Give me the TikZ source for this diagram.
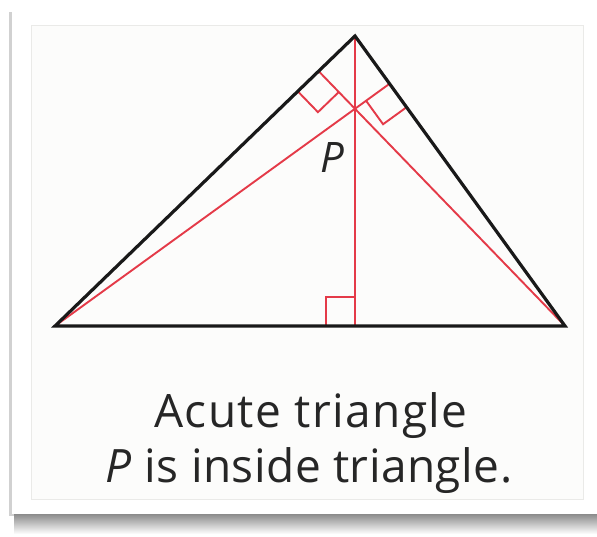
\documentclass[tikz,border=0pt]{standalone}
\usepackage{fontspec}
\setmainfont{Open Sans}
\usetikzlibrary{calc}
\definecolor{redA}{RGB}{228,58,72}
\definecolor{cardG}{RGB}{252,252,251}
\definecolor{edgeG}{RGB}{234,234,232}

\begin{document}
\begin{tikzpicture}[x=1pt, y=-1pt,
  side/.style={draw=black!90, line width=3.2pt, line join=miter},
  alt/.style={draw=redA, line width=1.9pt},
  rmark/.style={draw=redA, line width=1.9pt},
  caption/.style={font=\fontsize{46}{53}\selectfont\addfontfeatures{LetterSpace=#1}, anchor=base, text=black!85},
]
\useasboundingbox (0,0) rectangle (597,536);

%% ═══ CARD ═══
\shade[top color=black!50, bottom color=white] (14,512) rectangle (597,534);
\fill[black!18] (9,12) rectangle (14,516);
\fill[white] (12,8) rectangle (597,514);
\draw[edgeG, fill=cardG] (31,25) rectangle (583,499);

%% ═══ TRIANGLE ═══
\coordinate (A) at (55,326);
\coordinate (B) at (355,36);
\coordinate (C) at (565,326);

\coordinate (Fb) at ($(A)!(B)!(C)$);
\coordinate (Fa) at ($(B)!(A)!(C)$);
\coordinate (Fc) at ($(A)!(C)!(B)$);

%% altitudes
\draw[alt] (B) -- (Fb);
\draw[alt] (A) -- (Fa);
\draw[alt] (C) -- (Fc);

%% right angle marks
\foreach \f/\p/\q in {Fb/A/B, Fa/C/A, Fc/A/C}{
  \coordinate (u) at ($(\f)!29pt!(\p)$);
  \coordinate (v) at ($(\f)!29pt!(\q)$);
  \draw[rmark] (u) -- ($(u)+(v)-(\f)$) -- (v);
}

\draw[side] (A) -- (B) -- (C) -- cycle;

\node[font=\fontsize{42}{48}\selectfont\itshape, text=black!85] (P) at (332,158) {P};

%% ═══ CAPTION ═══
\node[caption=3] (cap1) at (311,427) {Acute triangle};
\node[caption=1] (cap2) at (309,482) {\textit{P} is inside triangle.};

\end{tikzpicture}
\end{document}
